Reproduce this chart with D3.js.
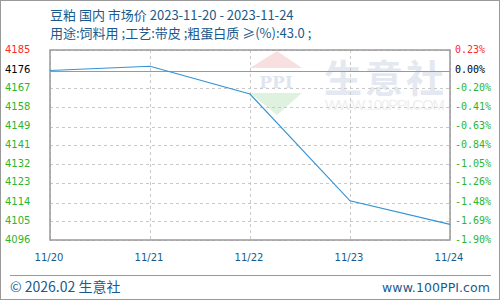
<!DOCTYPE html>
<html>
<head>
<meta charset="utf-8">
<script src="https://cdn.jsdelivr.net/npm/d3@7"></script>
<style>
  html, body { margin: 0; padding: 0; background: #fff; }
  #chart { width: 500px; height: 300px; }
  text { font-family: "DejaVu Sans", sans-serif; }
</style>
</head>
<body>
<div id="chart"></div>
<script>
// values
const dates     = ['11/20', '11/21', '11/22', '11/23', '11/24'];
const prices    = [4176, 4178, 4165, 4115, 4104];
const basePrice = 4176;
const pctTicks  = [0.23, 0.00, -0.20, -0.41, -0.63, -0.84, -1.05, -1.26, -1.48, -1.69, -1.90];
const priceTicks = ['4185', '4176', '4167', '4158', '4149', '4141', '4132', '4123', '4114', '4105', '4096'];
const title1 = '豆粕 国内 市场价 2023-11-20 - 2023-11-24';
const title2 = '用途:饲料用 ;工艺:带皮 ;粗蛋白质 ≥(%):43.0 ;';

;(function(){
  const W = 500, H = 300;
  const plot = {left: 50, right: 450, top: 50, bottom: 240};
  const blue = '#1a5a8c', red = '#ff2a2a', green = '#2db52d';

  const svg = d3.select('#chart').append('svg')
    .attr('width', W).attr('height', H);

  // outer frame
  svg.append('rect')
    .attr('x', 0.5).attr('y', 0.5).attr('width', W-1).attr('height', H-1)
    .attr('fill', '#fff').attr('stroke', '#999');

  const x = d3.scalePoint().domain(dates).range([plot.left, plot.right]);
  const y = d3.scaleLinear()
    .domain([d3.min(pctTicks), d3.max(pctTicks)])
    .range([plot.bottom, plot.top]);
  const pct = p => (p - basePrice) / basePrice * 100;

  // titles
  svg.append('text').attr('x', 50).attr('y', 20)
    .attr('fill', blue).style('font-family', '"Noto Sans CJK SC", sans-serif')
    .style('font-size', '13px').text(title1);
  svg.append('text').attr('x', 50).attr('y', 38)
    .attr('fill', blue).style('font-family', '"Noto Sans CJK SC", sans-serif')
    .style('font-size', '13px').text(title2);

  // watermark
  const wm = svg.append('g').attr('class', 'watermark');
  wm.append('path').attr('d', 'M250,68 L277,51 L302,68 Z').attr('fill', '#f9e0e0');
  wm.append('text').attr('x', 276).attr('y', 88).attr('text-anchor', 'middle')
    .attr('fill', '#dfe5f0').style('font-family', '"DejaVu Serif", serif')
    .style('font-size', '17px').style('font-weight', 'bold').text('PPI');
  wm.append('path').attr('d', 'M250,93 L302,93 L277,115 Z').attr('fill', '#dff2df');
  wm.append('text').attr('x', 324).attr('y', 92)
    .attr('fill', '#e4e8f1').style('font-family', '"Noto Sans CJK SC", sans-serif')
    .style('font-size', '38px').style('font-weight', 'bold')
    .attr('letter-spacing', '3px').text('生意社');
  wm.append('text').attr('x', 325).attr('y', 110)
    .attr('fill', '#eeeeee').style('font-family', '"Liberation Sans", sans-serif')
    .style('font-size', '15px').attr('textLength', 120).text('WWW.100PPI.COM');

  // grid
  const grid = svg.append('g').attr('class', 'grid');
  grid.selectAll('.hline').data(pctTicks.filter(t => t !== 0)).enter().append('line')
    .attr('x1', plot.left).attr('x2', plot.right)
    .attr('y1', d => Math.round(y(d)) + 0.5).attr('y2', d => Math.round(y(d)) + 0.5)
    .attr('stroke', '#c8c8c8').attr('stroke-dasharray', '3,3');
  grid.selectAll('.vline').data(dates).enter().append('line')
    .attr('x1', d => x(d) + 0.5).attr('x2', d => x(d) + 0.5)
    .attr('y1', plot.top).attr('y2', plot.bottom)
    .attr('stroke', '#c8c8c8').attr('stroke-dasharray', '3,3');
  grid.append('line')
    .attr('x1', plot.left).attr('x2', plot.right)
    .attr('y1', Math.round(y(0)) + 0.5).attr('y2', Math.round(y(0)) + 0.5)
    .attr('stroke', '#999');

  // plot frame
  svg.append('rect')
    .attr('x', plot.left).attr('y', plot.top)
    .attr('width', plot.right - plot.left).attr('height', plot.bottom - plot.top)
    .attr('fill', 'none').attr('stroke', '#999').attr('stroke-width', 1.5);

  // series
  const line = d3.line().x((d, i) => x(dates[i])).y(d => y(pct(d)));
  svg.append('path').datum(prices)
    .attr('d', line).attr('fill', 'none')
    .attr('stroke', '#3393d6').attr('stroke-width', 1.2);

  const tickColor = (d, i) => i === 0 ? red : (i === 1 ? '#000' : green);

  // left axis: prices
  svg.append('g').selectAll('text').data(priceTicks).enter().append('text')
    .attr('x', 5).attr('y', (d, i) => y(pctTicks[i]) - 1)
    .attr('dy', '0.35em').attr('fill', tickColor)
    .style('font-size', '10px').text(d => d);

  // right axis: percent
  svg.append('g').selectAll('text').data(pctTicks).enter().append('text')
    .attr('x', 455).attr('y', d => y(d) - 1)
    .attr('dy', '0.35em').attr('fill', tickColor)
    .style('font-family', '"DejaVu Sans Mono", monospace')
    .style('font-size', '10px').text(d => d.toFixed(2) + '%');

  // bottom axis
  svg.append('g').selectAll('text').data(dates).enter().append('text')
    .attr('x', d => x(d) - 1).attr('y', 261).attr('text-anchor', 'middle')
    .attr('fill', blue).style('font-size', '10px').text(d => d);

  // footer
  svg.append('line').attr('x1', 10).attr('x2', 491).attr('y1', 275.5).attr('y2', 275.5)
    .attr('stroke', '#999');
  svg.append('text').attr('x', 10).attr('y', 292).attr('fill', blue)
    .style('font-family', '"Noto Sans CJK SC", sans-serif').style('font-size', '14px')
    .text('© 2026.02 生意社');
  svg.append('text').attr('x', 490).attr('y', 292).attr('text-anchor', 'end').attr('fill', blue)
    .style('font-family', '"DejaVu Sans", sans-serif').style('font-size', '12.5px')
    .attr('textLength', 108).text('www.100PPI.com');
})();
</script>
</body>
</html>
